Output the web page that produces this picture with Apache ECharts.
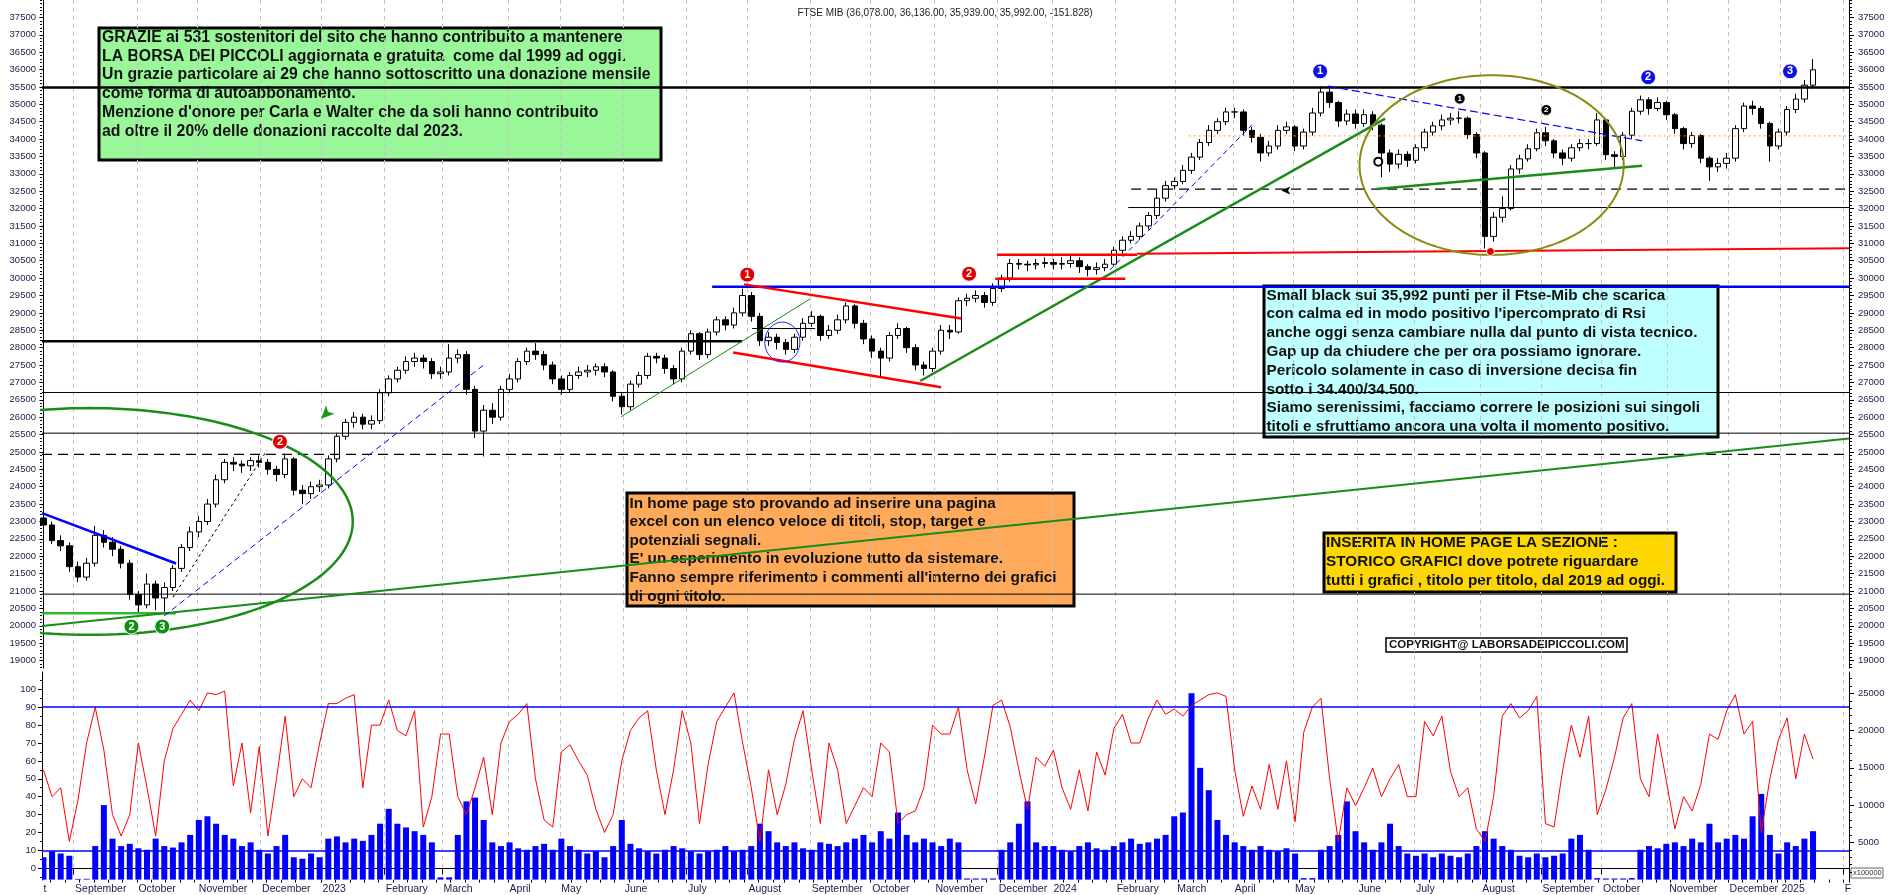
<!DOCTYPE html>
<html><head><meta charset="utf-8">
<script src="https://cdn.jsdelivr.net/npm/echarts@6/dist/echarts.min.js"></script>
<style>html,body{margin:0;padding:0;background:#fff}#c{width:1890px;height:895px}</style>
</head><body><div id="c"></div>
<script>
// ---------- calendar (trading days, Borsa Italiana) ----------
const holidays = ['2022-12-26','2023-04-07','2023-04-10','2023-05-01','2023-08-15','2023-12-25','2023-12-26',
  '2024-01-01','2024-03-29','2024-04-01','2024-05-01','2024-08-15','2024-12-24','2024-12-25','2024-12-26','2024-12-31','2025-01-01'];
const firstDay = '2022-08-17', lastDay = '2025-02-04';
const monthLabels = ['', 'February','March','April','May','June','July','August','September','October','November','December'];
const SLOT = 3; // one candle per 3 trading days

// ---------- price, one candle per slot: [open, close, low, high] ----------
const priceOHLC = [
[23100,22900,22750,23200],[22900,22450,22350,23000],[22450,22300,22150,22600],[22300,21700,21550,22400],
[21700,21400,21250,21850],[21400,21800,21300,21950],[21800,22600,21700,22870],[22600,22400,22250,22750],
[22400,22200,22000,22550],[22200,21800,21650,22300],[21800,20900,20750,21900],[20900,20600,20350,21000],
[20600,21200,20500,21500],[21200,20800,20450,21300],[20800,21100,20400,21250],[21100,21650,21000,21750],
[21650,22250,21550,22350],[22250,22700,22150,22850],[22700,23000,22550,23150],[23000,23500,22900,23650],
[23500,24200,23400,24350],[24200,24700,24100,24800],[24700,24650,24450,24850],[24650,24600,24400,24750],
[24600,24750,24450,24850],[24750,24700,24550,24900],[24700,24500,24350,24800],[24500,24350,24150,24600],
[24350,24800,24250,24950],[24800,23900,23750,24850],[23900,23800,23500,24050],[23800,24000,23650,24150],
[24000,24050,23850,24200],[24050,24800,23950,24900],[24800,25450,24700,25550],[25450,25850,25350,25950],
[25850,26000,25700,26150],[26000,25800,25650,26100],[25800,25900,25650,26050],[25900,26700,25800,26800],
[26700,27100,26600,27200],[27100,27350,27000,27450],[27350,27600,27250,27750],[27600,27700,27450,27850],
[27700,27600,27400,27800],[27600,27250,27100,27700],[27250,27300,27100,27450],[27300,27700,27200,28100],
[27700,27800,27550,27950],[27800,26800,26650,27900],[26800,25600,25400,26900],[25600,26200,24870,26350],
[26200,26000,25800,26400],[26000,26800,25900,26900],[26800,27100,26700,27250],[27100,27600,27000,27700],
[27600,27900,27500,28000],[27900,27800,27650,28130],[27800,27500,27350,27900],[27500,27100,26950,27600],
[27100,26800,26650,27200],[26800,27200,26700,27300],[27200,27300,27100,27450],[27300,27350,27150,27500],
[27350,27450,27200,27550],[27450,27300,27150,27550],[27300,26600,26450,27350],[26600,26300,26080,26700],
[26300,26950,26200,27050],[26950,27200,26850,27300],[27200,27750,27100,27850],[27750,27700,27550,27850],
[27700,27400,27250,27800],[27400,27100,26950,27500],[27100,27900,27000,28000],[27900,28400,27800,28500],
[28400,27800,27650,28450],[27800,28450,27700,28550],[28450,28800,28350,28900],[28800,28650,28500,28900],
[28650,29000,28550,29150],[29000,29500,28900,29700],[29500,28900,28750,29600],[28900,28200,28050,29000],
[28200,28300,28050,28450],[28300,28150,27950,28400],[28150,27950,27800,28250],[27950,28300,27850,28400],
[28300,28700,28200,28850],[28700,28900,28600,29050],[28900,28350,28200,28950],[28350,28500,28250,28650],
[28500,28800,28400,28950],[28800,29200,28700,29300],[29200,28700,28550,29250],[28700,28250,28100,28800],
[28250,27900,27700,28350],[27900,27700,27160,28000],[27700,28350,27600,28450],[28350,28550,28250,28700],
[28550,28000,27850,28600],[28000,27500,27350,28100],[27500,27400,27200,27600],[27400,27900,27300,28000],
[27900,28500,27800,28650],[28500,28450,28250,28650],[28450,29350,28400,29450],[29350,29420,29200,29550],
[29420,29500,29300,29650],[29500,29300,29150,29600],[29300,29700,29200,29850],[29700,30000,29600,30100],
[30000,30420,29900,30550],[30420,30400,30250,30550],[30400,30380,30200,30500],[30380,30420,30250,30550],
[30420,30450,30300,30600],[30450,30400,30250,30550],[30400,30420,30250,30600],[30420,30500,30300,30650],
[30500,30330,30150,30600],[30330,30250,30050,30400],[30250,30300,30100,30450],[30300,30400,30200,30550],
[30400,30800,30350,30900],[30800,31090,30700,31200],[31090,31200,31000,31350],[31200,31500,31100,31600],
[31500,31800,31400,31900],[31800,32300,31700,32550],[32300,32660,32200,32800],[32660,32780,32550,32900],
[32780,33100,32700,33250],[33100,33480,33000,33600],[33480,33900,33400,34000],[33900,34250,33800,34400],
[34250,34500,34150,34600],[34500,34780,34400,34900],[34780,34780,34600,34900],[34780,34250,34100,34850],
[34250,34050,33900,34350],[34050,33600,33350,34150],[33600,33800,33500,33950],[33800,34250,33700,34400],
[34250,34350,34150,34500],[34350,33800,33650,34400],[33800,34200,33700,34300],[34200,34750,34100,34900],
[34750,35350,34650,35520],[35350,35050,34900,35450],[35050,34520,34350,35100],[34520,34720,34400,34850],
[34720,34450,34300,34850],[34450,34700,34350,34850],[34700,34400,34250,34800],[34400,33600,32900,34450],
[33600,33280,33050,33700],[33280,33560,33150,33700],[33560,33390,33200,33650],[33390,33750,33300,33850],
[33750,34200,33650,34300],[34200,34380,34100,34500],[34380,34550,34250,34700],[34550,34600,34400,34750],
[34600,34600,34450,34800],[34600,34130,34000,34650],[34130,33600,33450,34200],[33600,31200,30850,33650],
[31200,31750,31050,31900],[31750,32000,31600,32350],[32000,33140,31950,33250],[33140,33430,33000,33550],
[33430,33720,33350,33850],[33720,34180,33650,34300],[34180,33950,33800,34350],[33950,33600,33450,34000],
[33600,33450,33250,33700],[33450,33750,33350,33850],[33750,33870,33650,34000],[33870,33870,33700,34000],
[33870,34550,33800,34750],[34550,33550,33400,34600],[33550,33500,33150,33650],[33500,34110,33400,34200],
[34110,34800,34000,34900],[34800,35130,34700,35250],[35130,34880,34700,35200],[34880,35050,34800,35200],
[35050,34700,34550,35100],[34700,34300,34150,34750],[34300,33870,33700,34350],[33870,34100,33750,34200],
[34100,33450,33300,34150],[33450,33200,32800,33500],[33200,33300,33050,33450],[33300,33450,33150,33600],
[33450,34300,33350,34400],[34300,34950,34200,35050],[34950,34880,34700,35100],[34880,34450,34300,34950],
[34450,33800,33350,34500],[33800,34200,33700,34300],[34200,34850,34100,34950],[34850,35150,34750,35300],
[35150,35550,35050,35700],[35550,35992,35450,36300]
];

// ---------- RSI, one value per slot ----------
const rsiValues = [55,40,45,15,38,70,90,66,30,18,30,70,45,18,60,78,86,94,88,98,97,99,46,70,31,68,18,50,85,40,
50,45,70,92,92,95,97,45,80,80,94,77,74,88,23,40,75,75,40,30,45,62,30,70,82,86,92,50,27,23,
65,69,60,52,33,20,30,60,77,84,88,55,30,55,88,70,25,58,82,90,98,70,45,15,55,30,47,72,88,55,
25,70,55,25,35,45,40,70,65,25,30,32,45,80,75,75,90,55,36,62,91,94,79,55,33,62,57,66,45,33,
55,32,65,52,78,86,70,70,84,94,86,89,85,91,94,97,98,96,55,29,46,33,58,33,60,26,76,90,95,50,
15,45,35,45,56,40,50,58,40,40,82,74,85,54,40,45,22,15,40,85,92,84,88,96,25,23,55,80,62,85,
30,44,62,84,92,50,40,75,49,22,40,32,47,75,72,88,97,75,82,20,50,72,84,50,75,61];

// ---------- volume (x100000), one value per slot ----------
const volumeValues = [3000,3800,3500,3200,100,100,4500,10000,5500,4500,4800,4200,4000,5500,4500,4300,5000,6000,8000,8500,
7500,6000,5500,4500,5000,4000,3500,4500,6000,3000,2800,3500,3000,5500,5800,5000,5500,5200,6000,7500,
9500,7500,7000,6500,6000,5000,300,300,6000,10500,11000,8000,5000,4500,5000,4200,4000,4500,4800,4000,
5500,4500,4000,3500,3800,3000,4500,8000,4800,4200,3800,3500,4000,4500,4200,3800,3500,3800,4000,4500,
3800,4000,4500,7500,6500,5000,4500,5000,4200,4000,5000,4800,4500,5000,5500,6000,5000,6500,5500,9000,
6000,5000,5500,5000,4500,5500,5000,150,150,150,150,4000,5000,7500,10500,5000,4500,4500,4000,3800,
4500,5000,4200,4000,4500,5000,5500,4800,5000,5500,6000,8500,9000,25000,15000,12000,8000,6000,5000,4500,
4000,4500,4000,3800,4200,3500,200,200,4000,4500,6000,10500,6500,5000,4000,5000,7500,4500,3500,3200,
3500,3000,3500,3200,3000,3500,4500,6500,5500,4500,4000,3200,3000,3500,3000,3200,3500,5500,6000,4000,
200,150,150,150,200,4000,4500,4200,4800,5000,4500,5500,5000,7500,5000,5500,6000,5500,8500,11500,
6000,3500,5000,4500,5500,6500];

// ---------- axis tick labels ----------
const priceTicks = []; for (let v = 19000; v <= 37500; v += 500) priceTicks.push(v);
const priceMinor = []; for (let v = 18800; v <= 38000; v += 100) priceMinor.push(v);
const rsiTicks = [0,10,20,30,40,50,60,70,80,90,100];
const rsiMinor = []; for (let v = -5; v <= 105; v += 5) rsiMinor.push(v);
const volTicks = [5000,10000,15000,20000,25000];
const volMinor = []; for (let v = 1000; v <= 27000; v += 1000) volMinor.push(v);

// ---------- drawn annotations (data space: trading-day index, price) ----------
const levels = [
  {y:35480, x1:'L', x2:'R', c:'#000', w:2.5},
  {y:28185, x1:'L', x2:242.8, c:'#000', w:2.5},
  {y:26710, x1:'L', x2:'R', c:'#000', w:1},
  {y:25540, x1:'L', x2:'R', c:'#000', w:1},
  {y:24930, x1:'L', x2:'R', c:'#000', w:1.2, t:[10,6]},
  {y:20910, x1:'L', x2:'R', c:'#000', w:1},
  {y:29750, x1:232.4, x2:'R', c:'#0000ff', w:2.5},
  {y:32560, x1:378, x2:'R', c:'#000', w:1.2, t:[10,6]},
  {y:32030, x1:377, x2:'R', c:'#000', w:1},
  {y:34090, x1:398, x2:'R', c:'#ff9933', w:1, t:[2,3]}
];
const trendlines = [
  [-0.5,23240, 46.1,21790, '#0000ff', 2.5],
  [-0.5,20360, 46.1,20360, '#2eb82e', 2.5],
  [-0.5,19990, 'R',25390, '#1a8c1a', 2],
  [41.9,20280, 152.8,27490, '#0000ff', 1, [6,4]],
  [45,20820, 77.7,25050, '#000', 1, [3,3]],
  [200.7,26010, 266.4,29400, '#1a8c1a', 1],
  [243.5,29820, 319,28840, '#ff0000', 2.5],
  [239.7,27860, 312,26860, '#ff0000', 2.5],
  [246.3,28550, 268.2,28550, '#000', 1],
  [304.7,27040, 466.3,34590, '#1a8c1a', 2.5],
  [370.7,30240, 420,34410, '#0000ff', 1, [5,4]],
  [446.5,35520, 555.6,33950, '#0000ff', 1.2, [8,4]],
  [463.2,32560, 555.6,33230, '#1a8c1a', 2.5],
  [331.4,30670, 380.1,30670, '#ff0000', 2.5],
  [380.1,30700, 'R',30860, '#ff0000', 2],
  [330.8,29980, 376,29980, '#ff0000', 2.5]
];
const ellipses = [
  {cx:16, cy:23000, rx:91.5, ry:3262, c:'#1a8c1a', w:2.5},
  {cx:503.3, cy:33253, rx:45.9, ry:2585, c:'#8a8a10', w:2},
  {cx:256.8, cy:28160, rx:6.1, ry:574, c:'#2020ff', w:1}
];
const markers = [
  {x:244.6, y:30100, t:'1', c:'#e00000', s:15},
  {x:82.2, y:25292, t:'2', c:'#e00000', s:15},
  {x:321.7, y:30124, t:'2', c:'#e00000', s:15},
  {x:30.6, y:19977, t:'2', c:'#109010', s:15},
  {x:41.3, y:19977, t:'3', c:'#109010', s:15},
  {x:443.7, y:35947, t:'1', c:'#1010e0', s:15},
  {x:557.7, y:35777, t:'2', c:'#1010e0', s:15},
  {x:607, y:35947, t:'3', c:'#1010e0', s:15},
  {x:492.2, y:35162, t:'1', c:'#000', s:11},
  {x:522.3, y:34836, t:'2', c:'#000', s:11},
  {x:502.9, y:30765, t:'', c:'#e00000', s:8}
];

// ---------- build ----------
function buildDates() {
  const out = [];
  let t = Date.parse(firstDay + 'T00:00:00Z');
  const end = Date.parse(lastDay + 'T00:00:00Z');
  while (t <= end) {
    const d = new Date(t), wd = d.getUTCDay(), s = d.toISOString().slice(0, 10);
    if (wd !== 0 && wd !== 6 && holidays.indexOf(s) < 0) out.push(s);
    t += 86400000;
  }
  return out;
}
const dates = buildDates();
const N = dates.length;
const XL = -0.5, XR = N - 0.5;
const isMonthStart = i => i > 0 && dates[i].slice(5, 7) !== dates[i - 1].slice(5, 7);
const isMonday = i => new Date(dates[i] + 'T00:00:00Z').getUTCDay() === 1;
function monthText(i) {
  if (i === 0) return 't';
  const s = dates[i], m = +s.slice(5, 7);
  if (s.slice(0, 7) === '2025-02') return 'F';
  if (m === 1) return s.slice(0, 4);
  return monthLabels[m - 1];
}
const candleData = priceOHLC.map((r, k) => [dates[k * SLOT], r[0], r[1], r[2], r[3]]);
const rsiData = rsiValues.map((v, k) => [dates[k * SLOT], v]);
const volData = volumeValues.map((v, k) => [dates[k * SLOT], v]);
const fx = v => v === 'L' ? XL : (v === 'R' ? XR : v);

const annSeries = [];
levels.forEach(l => annSeries.push({
  type:'line', xAxisIndex:1, yAxisIndex:0, data:[[fx(l.x1), l.y],[fx(l.x2), l.y]],
  showSymbol:false, symbol:'none', silent:true, animation:false, z:4,
  lineStyle:{color:l.c, width:l.w, type:l.t || 'solid'}
}));
trendlines.forEach(t => annSeries.push({
  type:'line', xAxisIndex:1, yAxisIndex:0, data:[[fx(t[0]), t[1]],[fx(t[2]), t[3]]],
  showSymbol:false, symbol:'none', silent:true, animation:false, z:4,
  lineStyle:{color:t[4], width:t[5], type:t[6] || 'solid'}
}));
ellipses.forEach(e => {
  const pts = [];
  for (let i = 0; i <= 180; i++) { const a = i / 180 * Math.PI * 2; pts.push([e.cx + e.rx * Math.cos(a), e.cy + e.ry * Math.sin(a)]); }
  annSeries.push({type:'line', xAxisIndex:1, yAxisIndex:0, data:pts, showSymbol:false, symbol:'none', silent:true,
    animation:false, z:4, lineStyle:{color:e.c, width:e.w}});
});
annSeries.push({
  type:'line', xAxisIndex:1, yAxisIndex:0, data:[], silent:true, animation:false, z:6,
  markPoint:{ animation:false, silent:true,
    data: markers.map(m => ({coord:[m.x, m.y], symbol:'circle', symbolSize:m.s,
      itemStyle:{color:m.c, borderColor:'#fff', borderWidth:1},
      label:{show:true, formatter:m.t, color:'#fff', fontSize: m.s > 12 ? 11 : 8, fontWeight:'bold', fontFamily:'Liberation Sans'}}))
      .concat([
        {coord:[463.9, 33350], symbol:'emptyCircle', symbolSize:8, itemStyle:{color:'#000', borderWidth:1}, label:{show:false}},
        {coord:[430.2, 32517], symbol:'arrow', symbolSize:[6,9], symbolRotate:90, itemStyle:{color:'#000'}, label:{show:false}},
        {coord:[96.5, 25957], symbol:'arrow', symbolSize:[9,13], symbolRotate:135, itemStyle:{color:'#1a9a1a'}, label:{show:false}}
      ])
  }
});

const labelFont = {fontFamily:'Liberation Sans, Arial, sans-serif', fontSize:9.5, color:'#1a1a48'};
function yAx(grid, pos, min, max, ticks, labels, len) {
  return {type:'value', gridIndex:grid, position:pos, min:min, max:max, scale:false,
    axisLine:{show:!!labels, lineStyle:{color:'#000', width:1}},
    axisTick:{show:true, customValues:ticks, length:len, lineStyle:{color:'#000'}},
    axisLabel: labels ? Object.assign({show:true, customValues:labels, margin: pos === 'left' ? 6 : 9,
      formatter:(v) => String(Math.round(v))}, labelFont) : {show:false},
    splitLine:{show:false}};
}
const PMIN = 18785, PMAX = 38000, RMIN = -6.54, RMAX = 109.66, VMIN = -54, VMAX = 27866;
const splitStyle = {show:true, interval:(i) => isMonthStart(i), lineStyle:{color:'#c4c4c4', type:[4,4], width:1}};

const option = {
  backgroundColor:'#fff',
  animation:false,
  title:{text:'FTSE MIB (36,078.00, 36,136.00, 35,939.00, 35,992.00, -151.828)', left:'center', top:3,
    textStyle:{fontSize:10, fontWeight:'normal', color:'#222', fontFamily:'Liberation Sans, Arial, sans-serif'}},
  grid:[
    {left:42, right:41, top:0, height:668},
    {left:42, right:41, top:672, height:208}
  ],
  xAxis:[
    {type:'category', gridIndex:0, data:dates, boundaryGap:true, axisLine:{show:false}, axisTick:{show:false}, axisLabel:{show:false}, splitLine:splitStyle},
    {type:'value', gridIndex:0, min:XL, max:XR, show:false},
    {type:'category', gridIndex:1, data:dates, boundaryGap:true, position:'bottom',
      axisLine:{show:true, lineStyle:{color:'#000'}},
      axisTick:{show:true, interval:(i) => isMonthStart(i), length:6, lineStyle:{color:'#000'}},
      axisLabel:{show:true, interval:(i) => i === 0 || isMonthStart(i), formatter:(v, i) => monthText(i), align:'left', margin:4,
        fontFamily:'Liberation Sans, Arial, sans-serif', fontSize:10.5, color:'#1a1a48', hideOverlap:false},
      splitLine:splitStyle},
    {type:'category', gridIndex:1, data:dates, boundaryGap:true, position:'bottom', axisLine:{show:false},
      axisTick:{show:true, interval:(i) => isMonday(i), length:3, lineStyle:{color:'#000'}}, axisLabel:{show:false}, splitLine:{show:false}}
  ],
  yAxis:[
    yAx(0, 'left', PMIN, PMAX, priceTicks, priceTicks, 4),
    yAx(0, 'right', PMIN, PMAX, priceTicks, priceTicks, 5),
    yAx(0, 'left', PMIN, PMAX, priceMinor, null, 2),
    yAx(0, 'right', PMIN, PMAX, priceMinor, null, 3),
    yAx(1, 'left', RMIN, RMAX, rsiTicks, rsiTicks, 4),
    yAx(1, 'right', VMIN, VMAX, volTicks, volTicks, 5),
    yAx(1, 'left', RMIN, RMAX, rsiMinor, null, 2),
    yAx(1, 'right', VMIN, VMAX, volMinor, null, 3)
  ],
  series:[
    {type:'candlestick', xAxisIndex:0, yAxisIndex:0, data:candleData, encode:{x:0, y:[1,2,3,4]}, barWidth:6,
      silent:true, z:3, itemStyle:{color:'#ffffff', color0:'#000000', borderColor:'#000000', borderColor0:'#000000', borderWidth:1}},
    ...annSeries,
    {type:'bar', xAxisIndex:2, yAxisIndex:5, data:volData, barWidth:6, silent:true, itemStyle:{color:'#0000ff'}, z:2},
    {type:'line', xAxisIndex:2, yAxisIndex:4, data:rsiData, showSymbol:false, symbol:'none', silent:true, z:3,
      lineStyle:{color:'#ff0000', width:1},
      markLine:{silent:true, symbol:'none', animation:false, label:{show:false},
        lineStyle:{color:'#0000ff', width:1.5, type:'solid'}, data:[{yAxis:90},{yAxis:10}]}}
  ],
  graphic:[]
};

const boxFont = 'bold 16px "Liberation Sans", Arial, sans-serif';
const boxFontS = 'bold 15.3px "Liberation Sans", Arial, sans-serif';
function textBox(x, y, w, h, fill, lines, lh, tx, ty, font, lw) {
  return {type:'group', z:100, children:[
    {type:'rect', shape:{x:x, y:y, width:w, height:h}, style:{fill:fill, stroke:'#000', lineWidth:lw || 3}},
    {type:'text', x:tx, y:ty, style:{text:lines.join('\n'), font:font || boxFont, fill:'#111', lineHeight:lh}}
  ]};
}
option.graphic = [
  textBox(99, 28, 562, 132, '#99f799', [
    'GRAZIE ai 531 sostenitori del sito che hanno contribuito a mantenere',
    'LA BORSA DEI PICCOLI aggiornata e gratuita  come dal 1999 ad oggi.',
    'Un grazie particolare ai 29 che hanno sottoscritto una donazione mensile',
    'come forma di autoabbonamento.',
    "Menzione d'onore per Carla e Walter che da soli hanno contribuito",
    'ad oltre il 20% delle donazioni raccolte dal 2023.'], 18.8, 102, 28, 'bold 15.8px "Liberation Sans", Arial, sans-serif'),
  textBox(627, 493, 447, 113, '#ffaa5a', [
    'In home page sto provando ad inserire una pagina',
    'excel con un elenco veloce di titoli, stop, target e',
    'potenziali segnali.',
    "E' un esperimento in evoluzione tutto da sistemare.",
    "Fanno sempre riferimento i commenti all'interno dei grafici",
    'di ogni titolo.'], 18.6, 629.5, 494, boxFontS),
  textBox(1264, 286, 454, 151, '#bfffff', [
    'Small black sui 35,992 punti per il Ftse-Mib che scarica',
    "con calma ed in modo positivo l'ipercomprato di Rsi",
    'anche oggi senza cambiare nulla dal punto di vista tecnico.',
    'Gap up da chiudere che per ora possiamo ignorare.',
    'Pericolo solamente in caso di inversione decisa fin',
    'sotto i 34.400/34.500.',
    'Siamo serenissimi, facciamo correre le posizioni sui singoli',
    'titoli e sfruttiamo ancora una volta il momento positivo.'], 18.8, 1266.5, 286, boxFontS),
  textBox(1324, 533, 352, 59, '#ffd700', [
    'INSERITA IN HOME PAGE LA SEZIONE :',
    'STORICO GRAFICI dove potrete riguardare',
    'tutti i grafici , titolo per titolo, dal 2019 ad oggi.'], 19, 1326, 533.5, boxFontS),
  textBox(1386, 638, 241, 14, '#ffffff', ['COPYRIGHT@ LABORSADEIPICCOLI.COM'], 14, 1389, 638,
    'bold 11.5px "Liberation Sans", Arial, sans-serif', 1.5),
  {type:'group', z:100, children:[
    {type:'rect', shape:{x:1851, y:868, width:32, height:10}, style:{fill:'#fff', stroke:'#666', lineWidth:1}},
    {type:'text', x:1853, y:869, style:{text:'x100000', font:'7.5px "Liberation Sans", Arial, sans-serif', fill:'#333'}}
  ]}
];

const chart = echarts.init(document.getElementById('c'), null, {renderer:'canvas'});
chart.setOption(option);
</script>
</body></html>
